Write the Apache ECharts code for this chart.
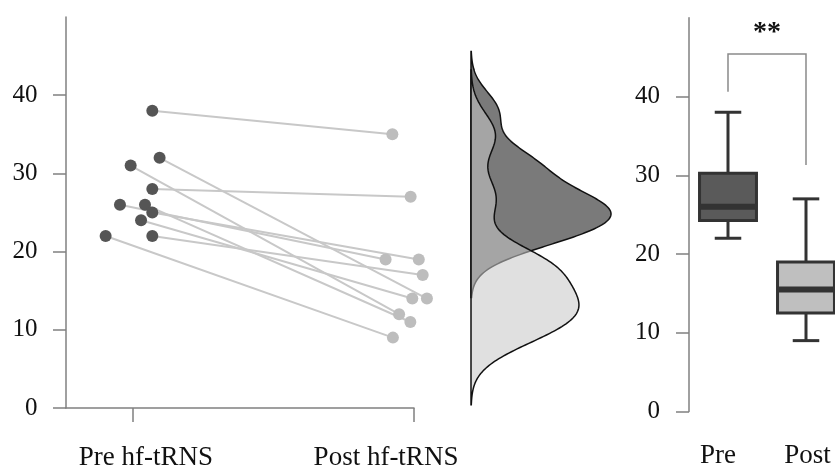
<!DOCTYPE html>
<html><head><meta charset="utf-8">
<script src="https://cdn.jsdelivr.net/npm/echarts@6/dist/echarts.min.js"></script>
<style>html,body{margin:0;padding:0;background:#fff}#c{width:835px;height:471px}</style>
</head><body><div id="c"></div>
<script>
// ---- data ----
const conditionLabels = ['Pre hf-tRNS', 'Post hf-tRNS'];
const groupLabels = ['Pre', 'Post'];
const preScores  = [38, 32, 31, 28, 26, 26, 25, 24, 22, 22];
const postScores = [35, 14, 12, 27, 19, 11, 19, 14, 9, 17];
const preJitter  = [1.069, 1.095, 0.992, 1.069, 0.954, 1.043, 1.069, 1.029, 0.903, 1.069];
const postJitter = [1.923, 2.046, 1.947, 1.988, 1.899, 1.987, 2.017, 1.994, 1.925, 2.031];
const yTicks = [0, 10, 20, 30, 40];
const sigBracket = [40.6, 45.4, 31.3];
const sigLabel = '**';

// ---- stats ----
function quantile(arr, p) {
  const s = [...arr].sort((a, b) => a - b);
  const h = (s.length - 1) * p, lo = Math.floor(h);
  const hi = Math.min(lo + 1, s.length - 1);
  return s[lo] + (h - lo) * (s[hi] - s[lo]);
}
function boxStats(arr) {
  const q1 = quantile(arr, 0.25), med = quantile(arr, 0.5), q3 = quantile(arr, 0.75);
  const iqr = q3 - q1;
  const lo = Math.min(...arr.filter(v => v >= q1 - 1.5 * iqr));
  const hi = Math.max(...arr.filter(v => v <= q3 + 1.5 * iqr));
  return [lo, q1, med, q3, hi];
}
function sd(arr) {
  const m = arr.reduce((a, b) => a + b, 0) / arr.length;
  return Math.sqrt(arr.reduce((a, b) => a + (b - m) * (b - m), 0) / (arr.length - 1));
}
function bwNrd0(arr) {
  const iqr = quantile(arr, 0.75) - quantile(arr, 0.25);
  return 0.9 * Math.min(sd(arr), iqr / 1.34) * Math.pow(arr.length, -0.2);
}
function kde(arr) {
  const bw = bwNrd0(arr);
  const lo = Math.min(...arr) - 3 * bw, hi = Math.max(...arr) + 3 * bw;
  const N = 240, pts = [];
  for (let i = 0; i <= N; i++) {
    const y = lo + (hi - lo) * i / N;
    let d = 0;
    arr.forEach(v => { const z = (y - v) / bw; d += Math.exp(-0.5 * z * z); });
    pts.push([d / (arr.length * bw * Math.sqrt(2 * Math.PI)), y]);
  }
  return pts;
}
const preDens = kde(preScores), postDens = kde(postScores);
const densMax = Math.max(...preDens.map(p => p[0]), ...postDens.map(p => p[0]));

const serif = 'Liberation Serif';
const axisGray = '#808080';

function densityRender(pts, fill) {
  return function (params, api) {
    if (params.dataIndex !== 0) return;
    const poly = [api.coord([0, pts[0][1]])];
    pts.forEach(p => poly.push(api.coord(p)));
    poly.push(api.coord([0, pts[pts.length - 1][1]]));
    return { type: 'polygon', shape: { points: poly },
      style: { fill: fill, stroke: '#111', lineWidth: 1.5 } };
  };
}

const boxFill = ['#5a5a5a', '#bfbfbf'];
const boxData = [[1, ...boxStats(preScores)], [2, ...boxStats(postScores)]];

const option = {
  animation: false,
  backgroundColor: '#fff',
  grid: [
    { left: 66, right: 421, top: 17, bottom: 60.5 },
    { left: 471, right: 224, top: 17, bottom: 60.5 },
    { left: 689, right: 0, top: 17.75, bottom: 59.5 }
  ],
  xAxis: [
    { type: 'value', gridIndex: 0, min: 0.762, max: 2,
      axisLine: { show: true, lineStyle: { color: axisGray, width: 1.5 } },
      axisTick: { show: true, customValues: [1, 2], length: 14, lineStyle: { color: axisGray, width: 1.5 } },
      splitLine: { show: false },
      axisLabel: { customValues: [1, 2], margin: 36,
        formatter: v => v === 1 ? '{a|' + conditionLabels[0] + '}' : '{b|' + conditionLabels[1] + '}',
        rich: {
          a: { fontFamily: serif, fontSize: 27, color: '#111', padding: [0, 0, 0, 26] },
          b: { fontFamily: serif, fontSize: 27, color: '#111', padding: [0, 56, 0, 0] }
        } } },
    { type: 'value', gridIndex: 1, min: 0, max: densMax, show: false },
    { type: 'value', gridIndex: 2, min: 0.5, max: 2.3718,
      axisLine: { show: false }, axisTick: { show: false }, splitLine: { show: false },
      axisLabel: { customValues: [1, 2], margin: 31,
        formatter: v => v === 1 ? '{a|' + groupLabels[0] + '}' : '{b|' + groupLabels[1] + '}',
        rich: {
          a: { fontFamily: serif, fontSize: 27, color: '#111', padding: [0, 20, 0, 0] },
          b: { fontFamily: serif, fontSize: 27, color: '#111', padding: [0, 0, 0, 3] }
        } } }
  ],
  yAxis: [
    { type: 'value', gridIndex: 0, min: 0, max: 50,
      axisLine: { show: true, lineStyle: { color: axisGray, width: 1.5 } },
      axisTick: { show: true, customValues: yTicks, length: 13, lineStyle: { color: axisGray, width: 1.5 } },
      axisLabel: { customValues: yTicks, margin: 28.5, fontFamily: serif, fontSize: 25, color: '#111' },
      splitLine: { show: false } },
    { type: 'value', gridIndex: 1, min: 0, max: 50, show: false },
    { type: 'value', gridIndex: 2, min: 0, max: 50,
      axisLine: { show: true, lineStyle: { color: axisGray, width: 1.5 } },
      axisTick: { show: true, customValues: yTicks, length: 13, lineStyle: { color: axisGray, width: 1.5 } },
      axisLabel: { customValues: yTicks, margin: 29, fontFamily: serif, fontSize: 25, color: '#111' },
      splitLine: { show: false } }
  ],
  series: [
    { type: 'custom', xAxisIndex: 0, yAxisIndex: 0, z: 1, clip: false,
      data: preScores.map((v, i) => [preJitter[i], v, postJitter[i], postScores[i]]),
      encode: { x: [0, 2], y: [1, 3] },
      renderItem: (params, api) => {
        const a = api.coord([api.value(0), api.value(1)]);
        const b = api.coord([api.value(2), api.value(3)]);
        return { type: 'line', shape: { x1: a[0], y1: a[1], x2: b[0], y2: b[1] },
          style: { stroke: '#c8c8c8', lineWidth: 2 } };
      } },
    { type: 'scatter', xAxisIndex: 0, yAxisIndex: 0, z: 3, clip: false, symbolSize: 12,
      data: preScores.map((v, i) => [preJitter[i], v]), itemStyle: { color: '#555555', opacity: 1 } },
    { type: 'scatter', xAxisIndex: 0, yAxisIndex: 0, z: 3, clip: false, symbolSize: 12,
      data: postScores.map((v, i) => [postJitter[i], v]), itemStyle: { color: '#bdbdbd', opacity: 1 } },
    { type: 'custom', xAxisIndex: 1, yAxisIndex: 1, z: 2, data: [preDens[0]],
      renderItem: densityRender(preDens, '#7a7a7a') },
    { type: 'custom', xAxisIndex: 1, yAxisIndex: 1, z: 3, data: [postDens[0]],
      renderItem: densityRender(postDens, 'rgba(200,200,200,0.56)') },
    { type: 'custom', xAxisIndex: 2, yAxisIndex: 2, z: 2, data: boxData,
      encode: { x: 0, y: [1, 2, 3, 4, 5] },
      renderItem: (params, api) => {
        const x = api.value(0);
        const lo = api.value(1), q1 = api.value(2), med = api.value(3), q3 = api.value(4), hi = api.value(5);
        const bw = 0.73, cw = 0.34;
        const c = p => api.coord(p);
        const ln = (p1, p2, w) => ({ type: 'line', shape: { x1: p1[0], y1: p1[1], x2: p2[0], y2: p2[1] },
          style: { stroke: '#333', lineWidth: w } });
        const tl = c([x - bw / 2, q3]), br = c([x + bw / 2, q1]);
        return { type: 'group', children: [
          ln(c([x, q3]), c([x, hi]), 3),
          ln(c([x, q1]), c([x, lo]), 3),
          ln(c([x - cw / 2, hi]), c([x + cw / 2, hi]), 3),
          ln(c([x - cw / 2, lo]), c([x + cw / 2, lo]), 3),
          { type: 'rect', shape: { x: tl[0], y: tl[1], width: br[0] - tl[0], height: br[1] - tl[1] },
            style: { fill: boxFill[params.dataIndex], stroke: '#333', lineWidth: 3 } },
          ln(c([x - bw / 2, med]), c([x + bw / 2, med]), 6)
        ] };
      } },
    { type: 'custom', xAxisIndex: 2, yAxisIndex: 2, z: 2, data: [[1, sigBracket[1]]],
      renderItem: (params, api) => {
        const p1 = api.coord([1, sigBracket[0]]), p2 = api.coord([1, sigBracket[1]]);
        const p3 = api.coord([2, sigBracket[1]]), p4 = api.coord([2, sigBracket[2]]);
        const mid = api.coord([1.5, sigBracket[1]]);
        return { type: 'group', children: [
          { type: 'polyline', shape: { points: [p1, p2, p3, p4] },
            style: { stroke: '#8a8a8a', lineWidth: 1.5, fill: 'none' } },
          { type: 'text', x: mid[0], y: mid[1] - 21,
            style: { text: sigLabel, fontFamily: serif, fontWeight: 'bold', fontSize: 28,
              fill: '#111', align: 'center', verticalAlign: 'middle' } }
        ] };
      } }
  ]
};
echarts.init(document.getElementById('c'), null, { renderer: 'canvas' }).setOption(option);
</script></body></html>
